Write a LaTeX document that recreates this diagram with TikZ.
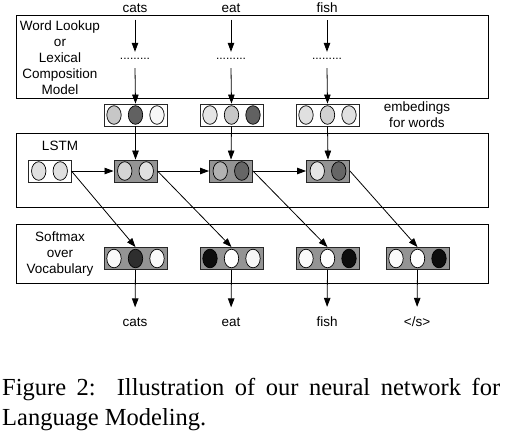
\documentclass[tikz,border=0pt]{standalone}
\usepackage{fontspec}
\setmainfont{Liberation Sans}
\newfontfamily\capfont{Liberation Serif}
\usetikzlibrary{arrows.meta,calc}
\tikzset{
 lbl/.style={font=\fontsize{13.5}{16}\selectfont, align=center, inner sep=0pt},
 bigbox/.style={draw, line width=0.9pt, minimum width=472pt, inner sep=0pt},
 vecthree/.style={draw=black!85, line width=0.9pt, minimum width=63pt, minimum height=22pt, inner sep=0pt},
 vectwo/.style={draw=black!85, line width=0.9pt, minimum width=43pt, minimum height=22pt, inner sep=0pt},
 arr/.style={-{Triangle[length=9pt,width=6.5pt]}, line width=0.8pt},
 dotsnode/.style={font=\fontsize{12}{12}\selectfont, inner sep=0pt, minimum height=16pt},
}
\newcommand\vcirc[3]{\draw[line width=0.7pt, fill=#3] ($(#1)+(#2,0)$) ellipse (7.2pt and 9.3pt);}
\begin{document}
\begin{tikzpicture}[x=1pt,y=-1pt]
\useasboundingbox (0,0) rectangle (508,437);
% big boxes
\node[bigbox, minimum height=83pt] (B1) at (252,56.5) {};
\node[bigbox, minimum height=74pt] (B2) at (252,170) {};
\node[bigbox, minimum height=59pt] (B3) at (252,253.5) {};
% box labels
\node[lbl] (t1) at (60,58) {Word Lookup\\or\\Lexical\\Composition\\Model};
\node[lbl] (t2) at (60,146) {LSTM};
\node[lbl] (t3) at (60,254) {Softmax\\over\\Vocabulary};
\node[lbl] (t4) at (417,115) {embedings\\for words};
% input words
\node[lbl] (w1) at (135,8) {cats};
\node[lbl] (w2) at (231,8) {eat};
\node[lbl] (w3) at (327,8) {fish};
% dots
\node[dotsnode] (d1) at (135,60) {\raisebox{2pt}{.........}};
\node[dotsnode] (d2) at (231,60) {\raisebox{2pt}{.........}};
\node[dotsnode] (d3) at (327,60) {\raisebox{2pt}{.........}};
% embeddings
\node[vecthree, fill=white] (e1) at (135.5,115) {};
\node[vecthree, fill=white] (e2) at (231.5,115) {};
\node[vecthree, fill=white] (e3) at (327.5,115) {};
\vcirc{e1}{-21.5}{black!22}\vcirc{e1}{0}{black!62}\vcirc{e1}{21.5}{black!3}
\vcirc{e2}{-21.5}{black!10}\vcirc{e2}{0}{black!22}\vcirc{e2}{21.5}{black!62}
\vcirc{e3}{-21.5}{black!12}\vcirc{e3}{0}{black!18}\vcirc{e3}{21.5}{black!12}
% LSTM
\node[vectwo, fill=white] (l0) at (49.5,171) {};
\node[vectwo, fill=black!42] (l1) at (135.5,171) {};
\node[vectwo, fill=black!42] (l2) at (231,171) {};
\node[vectwo, fill=black!42] (l3) at (328,171) {};
\vcirc{l0}{-10.75}{black!12}\vcirc{l0}{10.75}{black!12}
\vcirc{l1}{-10.75}{black!17}\vcirc{l1}{10.75}{black!12}
\vcirc{l2}{-10.75}{black!30}\vcirc{l2}{10.75}{black!60}
\vcirc{l3}{-10.75}{black!10}\vcirc{l3}{10.75}{black!60}
% softmax
\node[vecthree, fill=black!42] (s1) at (135.5,258.5) {};
\node[vecthree, fill=black!42] (s2) at (231.5,258.5) {};
\node[vecthree, fill=black!42] (s3) at (327.5,258.5) {};
\node[vecthree, fill=black!42] (s4) at (417.5,258.5) {};
\vcirc{s1}{-21.5}{black!2}\vcirc{s1}{0}{black!82}\vcirc{s1}{21.5}{black!2}
\vcirc{s2}{-21.5}{black!95}\vcirc{s2}{0}{white}\vcirc{s2}{21.5}{black!3}
\vcirc{s3}{-21.5}{black!2}\vcirc{s3}{0}{white}\vcirc{s3}{21.5}{black!95}
\vcirc{s4}{-21.5}{black!2}\vcirc{s4}{0}{white}\vcirc{s4}{21.5}{black!95}
% outputs
\node[lbl] (o1) at (135,322) {cats};
\node[lbl] (o2) at (231,322) {eat};
\node[lbl] (o3) at (327,322) {fish};
\node[lbl] (o4) at (417,322) {</s>};
% arrows top
\foreach \i in {1,2,3}{
  \draw[arr, shorten <=7pt] (w\i) -- (d\i.north);
  \draw[arr] (d\i.south) -- (e\i.north);
  \draw[arr] (e\i.south) -- (l\i.north);
  \draw[arr, shorten >=10pt] (s\i.south) -- (o\i.north);
}
\draw[arr, shorten >=10pt] (s4.south) -- (o4.north);
% LSTM horizontal
\draw[arr] (l0.east) -- (l1.west);
\draw[arr] (l1.east) -- (l2.west);
\draw[arr] (l2.east) -- (l3.west);
% diagonals
\draw[arr] (l0.east) -- (s1.north);
\draw[arr] (l1.east) -- (s2.north);
\draw[arr] (l2.east) -- (s3.north);
\draw[arr] (l3.east) -- (s4.north);
% caption
\node[anchor=base west, inner sep=0pt] (cap1) at (2,395) {\capfont\fontsize{24.5}{28}\selectfont\makebox[498pt][s]{Figure 2:\ \ Illustration of our neural network for}};
\node[anchor=base west, inner sep=0pt] (cap2) at (2,425) {\capfont\fontsize{24.5}{28}\selectfont Language Modeling.};
\end{tikzpicture}
\end{document}
